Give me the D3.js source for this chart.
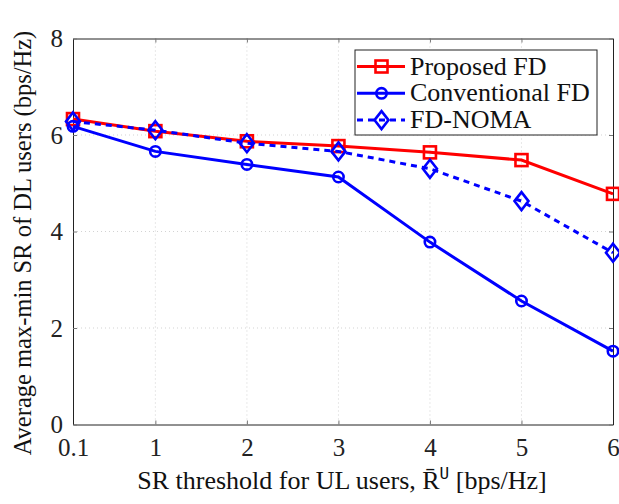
<!DOCTYPE html>
<html><head><meta charset="utf-8">
<script src="https://cdn.jsdelivr.net/npm/d3@7"></script>
<style>body{margin:0;background:#fff;} text{font-family:"Liberation Serif","DejaVu Serif",serif;}</style>
</head><body><svg id="c" width="619" height="504"></svg>
<script>
const xValues = [0.1, 1, 2, 3, 4, 5, 6];
const xTickLabels = ["0.1", "1", "2", "3", "4", "5", "6"];
const yTicks = [0, 2, 4, 6, 8];
const proposedFD = [6.33, 6.08, 5.87, 5.77, 5.64, 5.48, 4.78];
const conventionalFD = [6.18, 5.66, 5.39, 5.13, 3.78, 2.56, 1.52];
const fdNOMA = [6.28, 6.10, 5.83, 5.66, 5.30, 4.63, 3.56];
const seriesNames = ["Proposed FD", "Conventional FD", "FD-NOMA"];

const svg = d3.select("#c");
const L = 73, R = 613, T = 38.5, B = 424.5;
const x = d3.scaleLinear().domain([0.1, 6]).range([L, R]);
const y = d3.scaleLinear().domain([0, 8]).range([B, T]);

// grid
const g = svg.append("g");
g.selectAll(".gx").data(xValues.slice(1, -1)).enter().append("line")
  .attr("x1", d => x(d)).attr("x2", d => x(d)).attr("y1", T).attr("y2", B)
  .attr("stroke", "#c8c8c8").attr("stroke-width", 0.8).attr("stroke-dasharray", "1,3");
g.selectAll(".gy").data(yTicks.slice(1, -1)).enter().append("line")
  .attr("y1", d => y(d)).attr("y2", d => y(d)).attr("x1", L).attr("x2", R)
  .attr("stroke", "#c8c8c8").attr("stroke-width", 0.8).attr("stroke-dasharray", "1,3");

// axes with inward ticks
const axB = d3.axisBottom(x).tickValues(xValues).tickFormat((d, i) => xTickLabels[i]).tickSizeInner(-4).tickSizeOuter(0).tickPadding(14);
const axT = d3.axisTop(x).tickValues(xValues).tickFormat("").tickSizeInner(-4).tickSizeOuter(0);
const axL = d3.axisLeft(y).tickValues(yTicks).tickSizeInner(-4).tickSizeOuter(0).tickPadding(10);
const axR = d3.axisRight(y).tickValues(yTicks).tickFormat("").tickSizeInner(-4).tickSizeOuter(0);
function style(sel) {
  sel.selectAll("path").attr("stroke", "#222").attr("stroke-width", 1);
  sel.selectAll("line").attr("stroke", "#777").attr("stroke-width", 1);
  sel.selectAll("text").attr("font-size", 25).attr("fill", "#222").attr("font-family", "Liberation Serif, serif");
}
style(svg.append("g").attr("transform", `translate(0,${B})`).call(axB));
style(svg.append("g").attr("transform", `translate(0,${T})`).call(axT));
style(svg.append("g").attr("transform", `translate(${L},0)`).call(axL));
style(svg.append("g").attr("transform", `translate(${R},0)`).call(axR));

// series
const line = d3.line().x((d, i) => x(xValues[i])).y(d => y(d));
function drawLine(data, color, dash) {
  svg.append("path").datum(data).attr("d", line).attr("fill", "none")
    .attr("stroke", color).attr("stroke-width", 3).attr("stroke-dasharray", dash || null);
}
function square(sel, cx, cy, color) {
  sel.append("rect").attr("x", cx - 6).attr("y", cy - 6).attr("width", 12).attr("height", 12)
    .attr("fill", "none").attr("stroke", color).attr("stroke-width", 2.6);
}
function circle(sel, cx, cy, color) {
  sel.append("circle").attr("cx", cx).attr("cy", cy).attr("r", 5.2)
    .attr("fill", "none").attr("stroke", color).attr("stroke-width", 2.6);
}
function diamond(sel, cx, cy, color) {
  sel.append("path").attr("d", `M${cx},${cy - 9}L${cx + 7},${cy}L${cx},${cy + 9}L${cx - 7},${cy}Z`)
    .attr("fill", "none").attr("stroke", color).attr("stroke-width", 2.6);
}
const red = "#ff0000", blue = "#0000ff";
drawLine(proposedFD, red);
proposedFD.forEach((d, i) => square(svg, x(xValues[i]), y(d), red));
drawLine(conventionalFD, blue);
conventionalFD.forEach((d, i) => circle(svg, x(xValues[i]), y(d), blue));
drawLine(fdNOMA, blue, "6,5");
fdNOMA.forEach((d, i) => diamond(svg, x(xValues[i]), y(d), blue));

// legend
const lg = svg.append("g");
lg.append("rect").attr("x", 355).attr("y", 50).attr("width", 242).attr("height", 85)
  .attr("fill", "#fff").attr("stroke", "#222").attr("stroke-width", 1);
const legendItems = [
  {name: seriesNames[0], color: red, dash: null, mk: square},
  {name: seriesNames[1], color: blue, dash: null, mk: circle},
  {name: seriesNames[2], color: blue, dash: "6,5", mk: diamond}
];
legendItems.forEach((it, i) => {
  const cy = 66.5 + i * 26.8;
  lg.append("line").attr("x1", 357).attr("x2", 405).attr("y1", cy).attr("y2", cy)
    .attr("stroke", it.color).attr("stroke-width", 3).attr("stroke-dasharray", it.dash);
  it.mk(lg, 381.5, cy, it.color);
  lg.append("text").attr("x", 410).attr("y", cy + 8).attr("font-size", 26).attr("fill", "#111").text(it.name);
});

// axis labels
const xl = svg.append("text").attr("x", 342).attr("y", 489).attr("text-anchor", "middle").attr("font-size", 26).attr("fill", "#111");
xl.append("tspan").text("SR threshold for UL users, R\u0304");
xl.append("tspan").attr("dy", -10).attr("font-size", 16).attr("font-family", "DejaVu Sans Mono, monospace").text("U");
xl.append("tspan").attr("dy", 10).text(" [bps/Hz]");
svg.append("text").attr("transform", "translate(31,243) rotate(-90)").attr("text-anchor", "middle")
  .attr("font-size", 24.5).attr("fill", "#111").text("Average max-min SR of DL users (bps/Hz)");
</script></body></html>
